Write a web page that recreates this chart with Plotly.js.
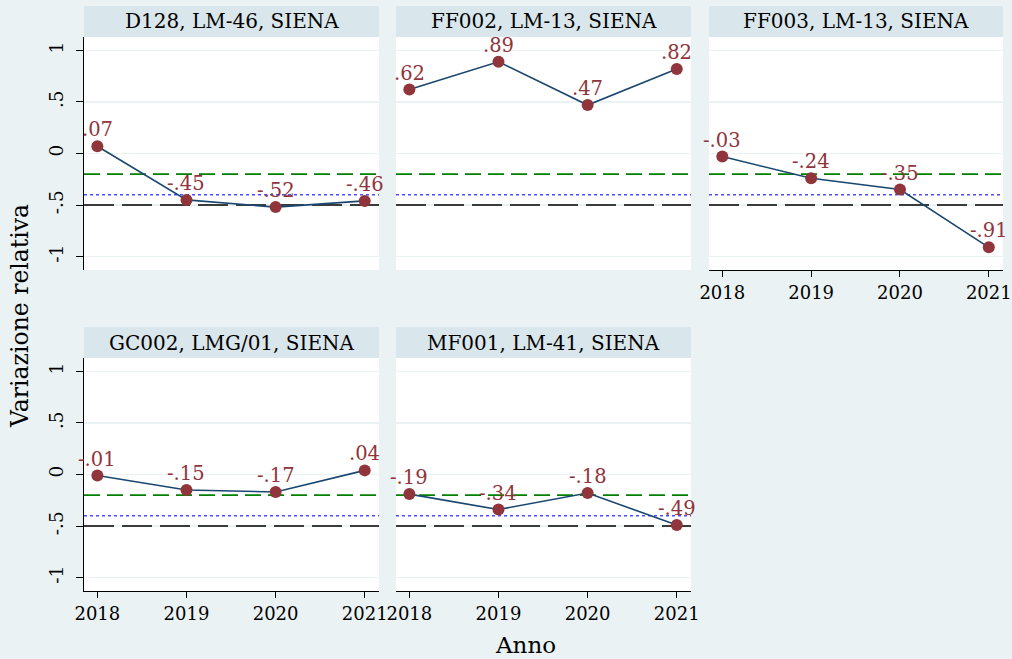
<!DOCTYPE html>
<html>
<head>
<meta charset="utf-8">
<script src="https://cdn.plot.ly/plotly-3.0.1.min.js"></script>
<style>
  html, body { margin: 0; padding: 0; background: #eaf2f3; }
  #chart { width: 1012px; height: 659px; }
</style>
</head>
<body>
<div id="chart"></div>
<script>
// Data
const years = [2018, 2019, 2020, 2021];
const panelTitles = [
  'D128, LM-46, SIENA',
  'FF002, LM-13, SIENA',
  'FF003, LM-13, SIENA',
  'GC002, LMG/01, SIENA',
  'MF001, LM-41, SIENA'
];
const d128 = [0.07, -0.45, -0.52, -0.46];
const ff002 = [0.62, 0.89, 0.47, 0.82];
const ff003 = [-0.03, -0.24, -0.35, -0.91];
const gc002 = [-0.01, -0.15, -0.17, 0.04];
const mf001 = [-0.19, -0.34, -0.18, -0.49];
const panelValues = [d128, ff002, ff003, gc002, mf001];

// reference lines: green dashed, blue dotted, black long dash
const refLevels = [-0.2, -0.4, -0.5];
const yTickVals = [-1, -0.5, 0, 0.5, 1];
const yTickText = ['-1', '-.5', '0', '.5', '1'];

const FONT = 'DejaVu Serif';
const MAROON = '#90353b';
const NAVY = '#1a476f';
const xRange = [2017.85, 2021.16];
const yRange = [-1.13, 1.13];

// panel geometry in pixels (chart is 1012 x 659)
const W = 1012, H = 659;
const colsPx = [[84, 379], [396, 691], [709, 1003]];
const rowsPx = [[37, 270], [358, 591]];
const stripH = 31;

const fmt = v => v.toFixed(2).replace('0.', '.');

const refStyles = [
  { color: '#008000', width: 1.6, dash: '16px,7px' },
  { color: '#4d4dff', width: 1.4, dash: 'dot' },
  { color: '#000000', width: 1.6, dash: '30px,8px' }
];

const traces = [];
const layout = {
  width: W, height: H,
  margin: { l: 0, r: 0, t: 0, b: 0 },
  paper_bgcolor: '#eaf2f3',
  plot_bgcolor: '#ffffff',
  showlegend: false,
  font: { family: FONT, color: '#000' },
  shapes: [],
  annotations: []
};

panelValues.forEach((vals, i) => {
  const row = Math.floor(i / 3), col = i % 3;
  const n = i === 0 ? '' : String(i + 1);
  const xa = 'x' + n, ya = 'y' + n;
  const [x0, x1] = colsPx[col];
  const [y0, y1] = rowsPx[row];

  const showY = col === 0;
  const showX = row === 1 || i === 2;

  layout['xaxis' + n] = {
    domain: [x0 / W, x1 / W],
    anchor: ya,
    range: xRange,
    tickvals: years,
    ticktext: years.map(String),
    ticks: showX ? 'outside' : '',
    ticklen: 6,
    tickcolor: '#000',
    showticklabels: showX,
    ticklabeloverflow: 'allow',
    tickfont: { family: FONT, size: 18, color: '#000' },
    showline: showX,
    linecolor: '#000',
    linewidth: 1.3,
    showgrid: false,
    zeroline: false,
    fixedrange: true
  };
  layout['yaxis' + n] = {
    domain: [1 - y1 / H, 1 - y0 / H],
    anchor: xa,
    range: yRange,
    tickvals: yTickVals,
    ticktext: yTickText,
    tickangle: -90,
    ticks: showY ? 'outside' : '',
    ticklen: 7,
    tickcolor: '#000',
    ticklabelstandoff: 5,
    showticklabels: showY,
    tickfont: { family: FONT, size: 18.5, color: '#000' },
    showline: showY,
    linecolor: '#000',
    linewidth: 1.3,
    showgrid: true,
    gridcolor: '#eaf2f3',
    gridwidth: 1.5,
    zeroline: false,
    fixedrange: true
  };

  refLevels.forEach((lv, k) => {
    traces.push({
      x: xRange, y: [lv, lv],
      xaxis: xa, yaxis: ya,
      mode: 'lines', type: 'scatter',
      line: refStyles[k],
      hoverinfo: 'skip'
    });
  });

  traces.push({
    x: years, y: vals,
    xaxis: xa, yaxis: ya,
    mode: 'lines+markers',
    type: 'scatter',
    line: { color: NAVY, width: 1.6 },
    marker: { color: MAROON, size: 12 }
  });

  // value labels just above each marker
  years.forEach((yr, j) => {
    layout.annotations.push({
      xref: xa, yref: ya, x: yr, y: vals[j],
      xanchor: 'center', yanchor: 'bottom', yshift: 3,
      text: fmt(vals[j]), showarrow: false,
      font: { family: FONT, size: 19.5, color: MAROON }
    });
  });

  // strip title
  layout.shapes.push({
    type: 'rect', xref: 'paper', yref: 'paper', layer: 'below',
    x0: x0 / W, x1: x1 / W,
    y0: 1 - y0 / H, y1: 1 - (y0 - stripH) / H,
    fillcolor: '#d9e6eb', line: { width: 0 }
  });
  layout.annotations.push({
    xref: 'paper', yref: 'paper',
    x: (x0 + x1) / 2 / W, y: 1 - (y0 - stripH / 2) / H,
    xanchor: 'center', yanchor: 'middle',
    text: panelTitles[i], showarrow: false,
    font: { family: FONT, size: 20, color: '#000' }
  });
});

// axis titles
layout.annotations.push({
  xref: 'paper', yref: 'paper',
  x: 20 / W, y: 1 - 316 / H,
  xanchor: 'center', yanchor: 'middle',
  text: 'Variazione relativa', textangle: -90, showarrow: false,
  font: { family: FONT, size: 23.5, color: '#000' }
});
layout.annotations.push({
  xref: 'paper', yref: 'paper',
  x: 525 / W, y: 1 - 645 / H,
  xanchor: 'center', yanchor: 'middle',
  text: 'Anno', showarrow: false,
  font: { family: FONT, size: 23, color: '#000' }
});

Plotly.newPlot('chart', traces, layout, { displayModeBar: false, staticPlot: true });
</script>
</body>
</html>
